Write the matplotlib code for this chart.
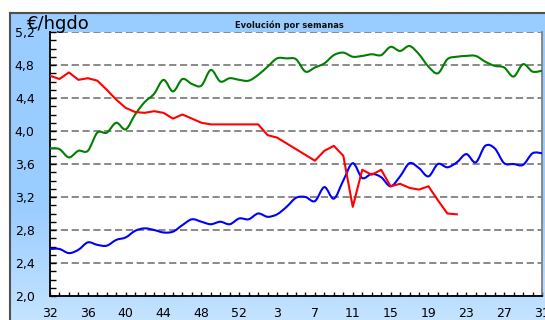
import numpy as np
import matplotlib.pyplot as plt
from matplotlib.path import Path
from matplotlib.patches import PathPatch, Rectangle
from matplotlib.ticker import MultipleLocator

# semanas 32-53 de un año y 1-31 del siguiente
semanas = list(range(32, 54)) + list(range(1, 32))

verde = [3.79, 3.78, 3.68, 3.76, 3.76, 3.98, 3.98, 4.10, 4.02, 4.20,
         4.35, 4.45, 4.62, 4.48, 4.63, 4.57, 4.55, 4.74, 4.60, 4.64,
         4.62, 4.61, 4.68, 4.78, 4.88, 4.88, 4.87, 4.72, 4.77, 4.82,
         4.92, 4.95, 4.90, 4.91, 4.93, 4.92, 5.02, 4.97, 5.03, 4.93,
         4.78, 4.70, 4.87, 4.90, 4.91, 4.91, 4.84, 4.79, 4.77, 4.66,
         4.81, 4.72, 4.73]

rojo = [4.67, 4.63, 4.71, 4.62, 4.64, 4.61, 4.50, 4.38, 4.28, 4.23,
        4.22, 4.24, 4.22, 4.15, 4.20, 4.15, 4.10, 4.08, 4.08, 4.08,
        4.08, 4.08, 4.08, 3.95, 3.92, 3.85, 3.78, 3.71, 3.64, 3.76,
        3.82, 3.70, 3.08, 3.53, 3.47, 3.53, 3.33, 3.36, 3.31, 3.29,
        3.33, 3.16, 3.00, 2.99]

azul = [2.57, 2.57, 2.52, 2.56, 2.65, 2.62, 2.61, 2.68, 2.71, 2.79,
        2.82, 2.80, 2.77, 2.78, 2.86, 2.93, 2.90, 2.87, 2.90, 2.87,
        2.94, 2.93, 3.00, 2.96, 2.99, 3.08, 3.19, 3.20, 3.15, 3.32,
        3.18, 3.40, 3.61, 3.43, 3.48, 3.44, 3.33, 3.45, 3.61, 3.55,
        3.45, 3.60, 3.56, 3.62, 3.72, 3.62, 3.82, 3.79, 3.61, 3.60,
        3.59, 3.73, 3.73]


def curva_suave(y):
    # tramos Bezier entre puntos consecutivos (linea suavizada)
    pts = np.column_stack([np.arange(len(y)), y]).astype(float)
    n = len(pts)
    verts = [pts[0]]
    codes = [Path.MOVETO]
    for i in range(n - 1):
        p0 = pts[max(i - 1, 0)]
        p1 = pts[i]
        p2 = pts[i + 1]
        p3 = pts[min(i + 2, n - 1)]
        verts += [p1 + (p2 - p0) / 6, p2 - (p3 - p1) / 6, p2]
        codes += [Path.CURVE4] * 3
    return Path(verts, codes)


W, H = 545, 320
fig = plt.figure(figsize=(W / 100, H / 100), dpi=100)
fig.patch.set_facecolor('white')

# fondo azul del grafico con degradado abajo
x0, y0 = 10 / W, 1 - 13 / H
bg = fig.add_axes([x0, 0, 1 - x0, y0], zorder=0)
t = np.linspace(0, 1, 200)[:, None]
top = np.array([0x99, 0xCC, 0xFF]) / 255
bot = np.array([0xC4, 0xE3, 0xFF]) / 255
k = np.clip((t - 0.62) / 0.38, 0, 1)
grad = top * (1 - k[..., None]) + bot * k[..., None]
bg.imshow(grad, aspect='auto', extent=[0, 1, 0, 1], origin='upper')
bg.set_xticks([])
bg.set_yticks([])
for s in ['right', 'bottom']:
    bg.spines[s].set_visible(False)
for s in ['left', 'top']:
    bg.spines[s].set_color('#505050')
    bg.spines[s].set_linewidth(1.5)

ax = fig.add_axes([50 / W, 1 - 296 / H, 492 / W, 264 / H], zorder=2)
ax.set_facecolor('white')

ax.add_patch(PathPatch(curva_suave(verde), fill=False, edgecolor='#008000',
                       lw=1.5, zorder=3))
ax.add_patch(PathPatch(curva_suave(azul), fill=False, edgecolor='#0000FF',
                       lw=1.5, zorder=3))
ax.plot(range(len(rojo)), rojo, color='#FF0000', lw=1.5, zorder=3)

ax.set_xlim(0, len(semanas) - 1)
ax.set_ylim(2.0, 5.2)

yt = np.arange(2.0, 5.21, 0.4)
ax.set_yticks(yt)
ax.set_yticklabels([f'{v:.1f}'.replace('.', ',') for v in yt],
                   fontsize=9, family='DejaVu Sans')
ax.yaxis.set_minor_locator(MultipleLocator(0.1))

xt = list(range(0, len(semanas), 4))
ax.set_xticks(xt)
ax.set_xticklabels([str(semanas[i]) for i in xt], fontsize=9,
                   family='DejaVu Sans')
ax.set_xticks(range(len(semanas)), minor=True)

ax.tick_params(axis='y', which='both', direction='in', length=4, width=1,
               pad=11)
ax.tick_params(axis='x', which='both', direction='in', length=3, width=1,
               pad=8)

ax.yaxis.grid(True, which='major', ls=(0, (4, 2)), color='#808080', lw=1.3)
ax.set_axisbelow(True)

ax.spines['top'].set_visible(False)
ax.spines['right'].set_color('#808080')
ax.spines['right'].set_linewidth(1.3)
for s in ['left', 'bottom']:
    ax.spines[s].set_color('black')
    ax.spines[s].set_linewidth(1.3)

fig.text(289 / W, 1 - 25 / H, 'Evolución por semanas', ha='center',
         va='center', fontsize=6, fontweight='bold', color='#111111')
fig.text(27 / W, 1 - 29 / H, '€/hgdo', ha='left', va='baseline',
         fontsize=13, color='black', zorder=10)

fig.savefig('out.png', dpi=100)
